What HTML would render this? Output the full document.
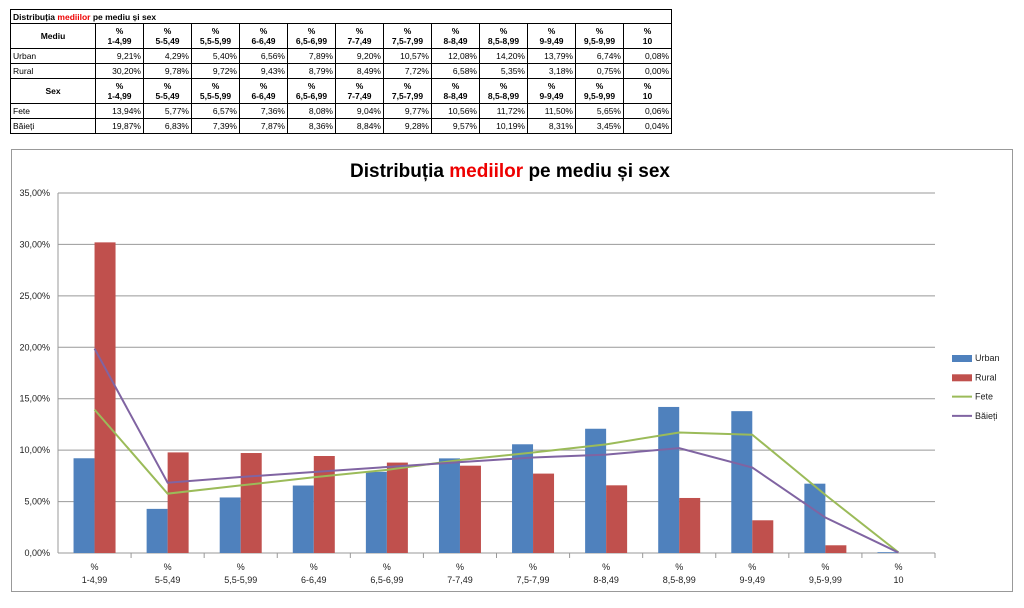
<!DOCTYPE html>
<html><head><meta charset="utf-8"><style>
body{margin:0;background:#fff;width:1024px;height:608px;overflow:hidden;font-family:"Liberation Sans",sans-serif;position:relative}
table{position:absolute;left:10px;top:9px;border-collapse:collapse;font-size:8.5px;table-layout:fixed;width:661px}
td{border:1px solid #000;padding:0 2px;height:14px;line-height:12px;white-space:nowrap}
td.n{text-align:right}
tr.h td{height:24px;font-weight:bold;text-align:center;line-height:10px}
.red{color:#e00}
</style></head><body>
<table>
<colgroup><col style="width:85px"><col span="12" style="width:48px"></colgroup>
<tr><td colspan="13" style="font-weight:bold;height:13px">Distribuția <span class="red">mediilor</span> pe mediu și sex</td></tr>
<tr class="h"><td>Mediu</td><td>%<br>1-4,99</td><td>%<br>5-5,49</td><td>%<br>5,5-5,99</td><td>%<br>6-6,49</td><td>%<br>6,5-6,99</td><td>%<br>7-7,49</td><td>%<br>7,5-7,99</td><td>%<br>8-8,49</td><td>%<br>8,5-8,99</td><td>%<br>9-9,49</td><td>%<br>9,5-9,99</td><td>%<br>10</td></tr>
<tr><td>Urban</td><td class="n">9,21%</td><td class="n">4,29%</td><td class="n">5,40%</td><td class="n">6,56%</td><td class="n">7,89%</td><td class="n">9,20%</td><td class="n">10,57%</td><td class="n">12,08%</td><td class="n">14,20%</td><td class="n">13,79%</td><td class="n">6,74%</td><td class="n">0,08%</td></tr>
<tr><td>Rural</td><td class="n">30,20%</td><td class="n">9,78%</td><td class="n">9,72%</td><td class="n">9,43%</td><td class="n">8,79%</td><td class="n">8,49%</td><td class="n">7,72%</td><td class="n">6,58%</td><td class="n">5,35%</td><td class="n">3,18%</td><td class="n">0,75%</td><td class="n">0,00%</td></tr>
<tr class="h"><td>Sex</td><td>%<br>1-4,99</td><td>%<br>5-5,49</td><td>%<br>5,5-5,99</td><td>%<br>6-6,49</td><td>%<br>6,5-6,99</td><td>%<br>7-7,49</td><td>%<br>7,5-7,99</td><td>%<br>8-8,49</td><td>%<br>8,5-8,99</td><td>%<br>9-9,49</td><td>%<br>9,5-9,99</td><td>%<br>10</td></tr>
<tr><td>Fete</td><td class="n">13,94%</td><td class="n">5,77%</td><td class="n">6,57%</td><td class="n">7,36%</td><td class="n">8,08%</td><td class="n">9,04%</td><td class="n">9,77%</td><td class="n">10,56%</td><td class="n">11,72%</td><td class="n">11,50%</td><td class="n">5,65%</td><td class="n">0,06%</td></tr>
<tr><td>Băieți</td><td class="n">19,87%</td><td class="n">6,83%</td><td class="n">7,39%</td><td class="n">7,87%</td><td class="n">8,36%</td><td class="n">8,84%</td><td class="n">9,28%</td><td class="n">9,57%</td><td class="n">10,19%</td><td class="n">8,31%</td><td class="n">3,45%</td><td class="n">0,04%</td></tr>
</table>
<svg id="c" width="1024" height="608" style="position:absolute;left:0;top:0" xmlns="http://www.w3.org/2000/svg" font-family="Liberation Sans, sans-serif"></svg>
<script>
var s=document.getElementById('c'),h='';
var L=58,R=935,T=193,B=553,k=(B-T)/35,cw=(R-L)/12;
var U=[9.21,4.29,5.40,6.56,7.89,9.20,10.57,12.08,14.20,13.79,6.74,0.08];
var Ru=[30.20,9.78,9.72,9.43,8.79,8.49,7.72,6.58,5.35,3.18,0.75,0];
var F=[13.94,5.77,6.57,7.36,8.08,9.04,9.77,10.56,11.72,11.50,5.65,0.06];
var Bi=[19.87,6.83,7.39,7.87,8.36,8.84,9.28,9.57,10.19,8.31,3.45,0.04];
var cats=['1-4,99','5-5,49','5,5-5,99','6-6,49','6,5-6,99','7-7,49','7,5-7,99','8-8,49','8,5-8,99','9-9,49','9,5-9,99','10'];
h+='<rect x="11.5" y="149.5" width="1001" height="442" fill="#fff" stroke="#999"/>';
h+='<text x="510" y="177" text-anchor="middle" font-size="19" font-weight="bold">Distribuția <tspan fill="#e00">mediilor</tspan> pe mediu și sex</text>';
for(var i=0;i<=7;i++){var y=B-i*5*k;h+='<line x1="'+L+'" x2="'+R+'" y1="'+y+'" y2="'+y+'" stroke="#999"/>';
h+='<text x="50" y="'+(y+3)+'" text-anchor="end" font-size="9" fill="#222">'+(i*5)+',00%</text>';}
h+='<line x1="'+L+'" x2="'+L+'" y1="'+T+'" y2="'+B+'" stroke="#999"/>';
for(var i=0;i<12;i++){var c=L+cw*(i+.5);
h+='<rect x="'+(c-21)+'" y="'+(B-U[i]*k)+'" width="21" height="'+(U[i]*k)+'" fill="#4f81bd"/>';
h+='<rect x="'+c+'" y="'+(B-Ru[i]*k)+'" width="21" height="'+(Ru[i]*k)+'" fill="#c0504d"/>';
h+='<line x1="'+(L+cw*(i+1))+'" x2="'+(L+cw*(i+1))+'" y1="'+B+'" y2="'+(B+5)+'" stroke="#999"/>';
h+='<text x="'+c+'" y="'+(B+17)+'" text-anchor="middle" font-size="9" fill="#222">%</text>';
h+='<text x="'+c+'" y="'+(B+30)+'" text-anchor="middle" font-size="9" fill="#222">'+cats[i]+'</text>';}
function line(d,col){var p=d.map(function(v,i){return (L+cw*(i+.5))+','+(B-v*k)}).join(' ');h+='<polyline points="'+p+'" fill="none" stroke="'+col+'" stroke-width="2"/>';}
line(F,'#9bbb59');line(Bi,'#8064a2');
var lg=[['Urban','#4f81bd',1],['Rural','#c0504d',1],['Fete','#9bbb59',0],['Băieți','#8064a2',0]];
lg.forEach(function(g,i){var y=358+i*19.3;
if(g[2])h+='<rect x="952" y="'+(y-3)+'" width="20" height="7" fill="'+g[1]+'"/>';else h+='<line x1="952" x2="972" y1="'+y+'" y2="'+y+'" stroke="'+g[1]+'" stroke-width="2"/>';
h+='<text x="975" y="'+(y+3)+'" font-size="9" fill="#222">'+g[0]+'</text>';});
s.innerHTML=h;
</script>
</body></html>
